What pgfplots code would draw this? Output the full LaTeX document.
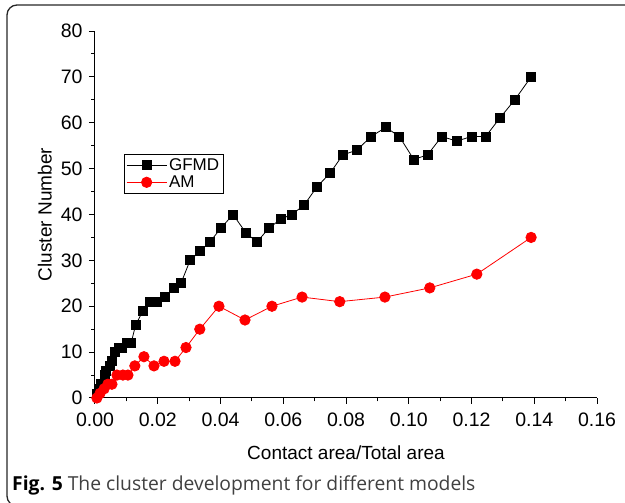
\documentclass[border=0pt]{standalone}
\usepackage{fontspec}
\setmainfont{Liberation Sans}
\newfontfamily\capfont{Open Sans}
\usepackage{pgfplots}
\usepackage{pgfplotstable}
\pgfplotsset{compat=1.18}
\pgfplotstableread{
x y
0.0006 1
0.0013 2
0.0020 3
0.0032 5
0.0035 6
0.0048 7
0.0054 8
0.0064 10
0.0075 11
0.0085 11
0.0102 12
0.0115 12
0.0130 16
0.0153 19
0.0175 21
0.0197 21
0.0223 22
0.0252 24
0.0274 25
0.0303 30
0.0334 32
0.0366 34
0.0401 37
0.0440 40
0.0481 36
0.0516 34
0.0554 37
0.0592 39
0.0627 40
0.0666 42
0.0707 46
0.0749 49
0.0790 53
0.0834 54
0.0880 57
0.0927 59
0.0970 57
0.1016 52
0.1060 53
0.1105 57
0.1153 56
0.1200 57
0.1245 57
0.1290 61
0.1338 65
0.1390 70
}\gfmd
\pgfplotstableread{
x y
0.0006 0
0.0016 1
0.0029 2
0.0041 3
0.0054 3
0.0070 5
0.0089 5
0.0105 5
0.0127 7
0.0156 9
0.0188 7
0.0220 8
0.0255 8
0.0290 11
0.0334 15
0.0395 20
0.0478 17
0.0564 20
0.0660 22
0.0780 21
0.0924 22
0.1067 24
0.1217 27
0.1390 35
}\am
\begin{document}
\begin{tikzpicture}
\useasboundingbox (0pt,0pt) rectangle (625pt,503pt);
\draw[line width=1.3pt, rounded corners=10pt, black!85] (640pt,498pt) -- (7pt,498pt) -- (7pt,-3pt) -- (40pt,-3pt);
\node[anchor=base west, inner sep=0pt, font=\capfont\fontsize{19.3}{23}\selectfont] at (12pt,12pt)
  {\textbf{Fig. 5} \textcolor{black!75}{The cluster development for different models}};
\begin{axis}[
  at={(95pt,105pt)}, anchor=south west,
  scale only axis, width=502pt, height=367pt,
  xmin=0, xmax=0.16, ymin=0, ymax=80,
  axis x line*=bottom, axis y line*=left,
  axis line style={-, line width=1pt},
  tick align=outside,
  major tick length=6pt, minor tick length=3.5pt,
  every tick/.style={black, line width=1pt},
  xtick={0,0.02,0.04,0.06,0.08,0.10,0.12,0.14,0.16},
  ytick={0,10,20,30,40,50,60,70,80},
  minor x tick num=1, minor y tick num=1,
  xticklabel style={/pgf/number format/fixed, /pgf/number format/fixed zerofill, /pgf/number format/precision=2, yshift=-5pt},
  yticklabel style={xshift=-3pt},
  /pgf/number format/assume math mode=true,
  tick label style={font=\fontsize{19.5}{22}\selectfont},
  label style={font=\fontsize{19}{22}\selectfont},
  xlabel={Contact area/Total area},
  ylabel={Cluster Number},
  xlabel style={at={(axis description cs:0.5,-0.15)}, anchor=center},
  ylabel style={at={(axis description cs:-0.1,0.5)}, anchor=center},
  clip=false,
  legend style={at={(axis cs:0.0092,53.2)}, anchor=north west, draw=black, line width=0.8pt,
    font=\fontsize{17}{19}\selectfont, inner sep=2pt, row sep=0pt,
    legend cell align=left},
  legend image code/.code={\draw[mark repeat=2,mark phase=2,#1] plot coordinates {(0pt,0pt) (20pt,0pt) (40pt,0pt)};},
]
\addplot[black, line width=0.8pt, mark=square*, mark size=4.5pt, mark options={solid}] table[x=x,y=y] {\gfmd};
\addlegendentry{GFMD}
\addplot[red, line width=0.8pt, mark=*, mark size=5.2pt, mark options={solid}] table[x=x,y=y] {\am};
\addlegendentry{AM}
\end{axis}
\end{tikzpicture}
\end{document}
